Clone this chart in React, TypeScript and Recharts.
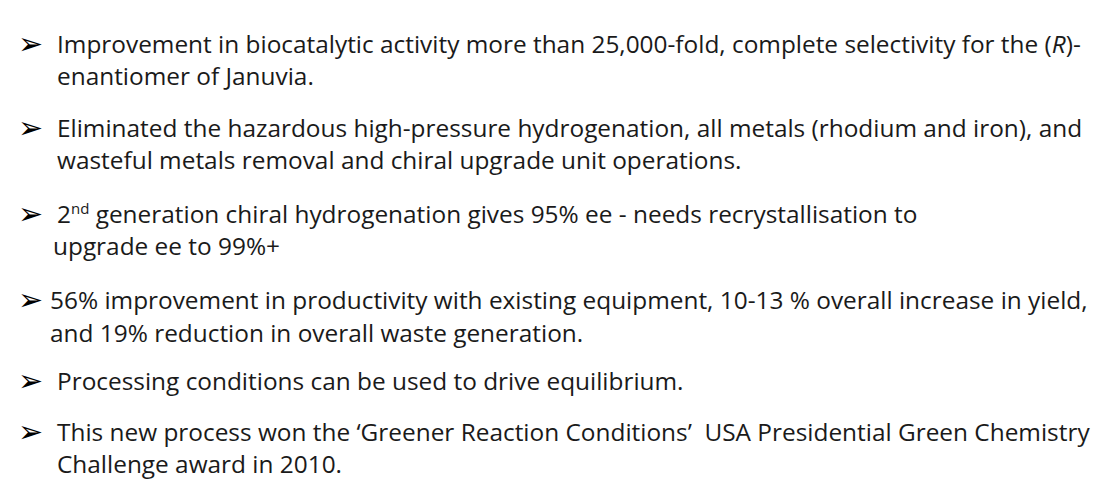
import React from 'react';
import { Surface } from 'recharts';

// Each bullet: list of lines; each line is a list of [text, style] runs
type Run = [string, '' | 'i' | 'sup'];
const bulletX = [18, 18, 18, 18, 18, 18];
const textX = [57, 57, 57, 50, 57, 57];
const lineY = [
  [53, 85],
  [137, 169],
  [223, 255],
  [309, 342],
  [390],
  [441, 473],
];
const bullets: Run[][][] = [
  [
    [['Improvement in biocatalytic activity more than 25,000-fold, complete selectivity for the (', ''], ['R', 'i'], [')-', '']],
    [['enantiomer of Januvia.', '']],
  ],
  [
    [['Eliminated the hazardous high-pressure hydrogenation, all metals (rhodium and iron), and', '']],
    [['wasteful metals removal and chiral upgrade unit operations.', '']],
  ],
  [
    [['2', ''], ['nd', 'sup'], [' generation chiral hydrogenation gives 95% ee - needs recrystallisation to', '']],
    [['upgrade ee to 99%+', '']],
  ],
  [
    [['56% improvement in productivity with existing equipment, 10-13 % overall increase in yield,', '']],
    [['and 19% reduction in overall waste generation.', '']],
  ],
  [[['Processing conditions can be used to drive equilibrium.', '']]],
  [
    [['This new process won the \u2018Greener Reaction Conditions\u2019  USA Presidential Green Chemistry', '']],
    [['Challenge award in 2010.', '']],
  ],
];
const secondLineX = [57, 57, 53, 50, 57, 57];

export default function App() {
  return (
    <div style={{ position: 'fixed', left: 0, top: 0, width: 1094, height: 496, background: '#fff' }}>
      <Surface width={1094} height={496}>
        {bullets.map((lines, b) => (
          <g key={b}>
            <text x={bulletX[b]} y={lineY[b][0] + 1} fontFamily="DejaVu Sans" fontSize={30} fill="#000">
              {'\u27A2'}
            </text>
            {lines.map((runs, l) => (
              <text
                key={l}
                x={l === 0 ? textX[b] : secondLineX[b]}
                y={lineY[b][l]}
                fontFamily="Open Sans"
                fontSize={20.5}
                textLength={undefined}
                fill="#1a1a1a"
                style={{ whiteSpace: 'pre', fontSize: '24.4px' }}
              >
                {runs.map(([t, s], k) => (
                  <tspan
                    key={k}
                    fontStyle={s === 'i' ? 'italic' : undefined}
                    style={s === 'sup' ? { fontSize: '15px' } : undefined}
                    dy={s === 'sup' ? -9 : k > 0 && runs[k - 1][1] === 'sup' ? 9 : undefined}
                  >
                    {t}
                  </tspan>
                ))}
              </text>
            ))}
          </g>
        ))}
      </Surface>
    </div>
  );
}
